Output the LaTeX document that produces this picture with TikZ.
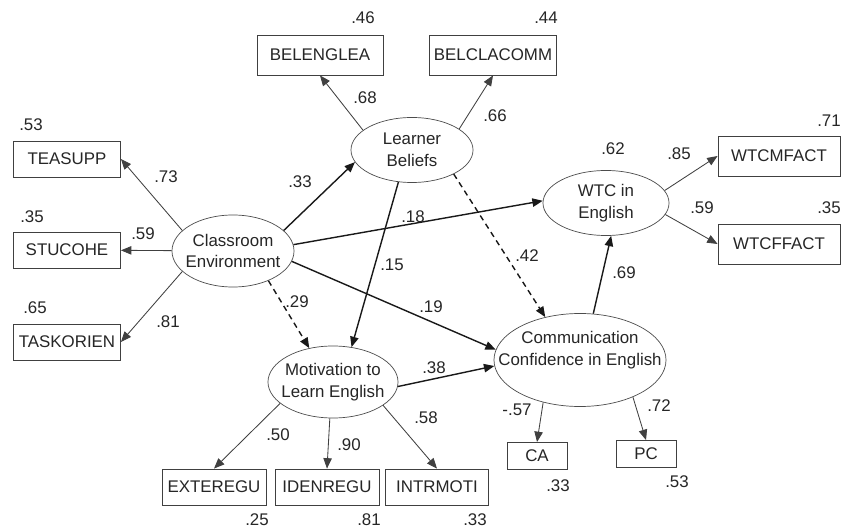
\documentclass[tikz,border=0pt]{standalone}
\usepackage{fontspec}
\setmainfont{Liberation Sans}
\usetikzlibrary{shapes,arrows.meta}

\begin{document}
\begin{tikzpicture}[x=0.025cm,y=-0.025cm,font=\fontsize{12}{15.6}\selectfont]
\tikzstyle{indic}=[draw=black!75,line width=0.6pt,minimum width=2.675cm,minimum height=0.9cm,inner sep=0pt,text=black!85]
\tikzstyle{latent}=[ellipse,draw=black!70,line width=0.5pt,inner sep=0pt]
\tikzstyle{load}=[draw=black!75,line width=0.6pt,-{Triangle[length=2.6mm,width=2.1mm]}]
\tikzstyle{effect}=[draw=black!90,line width=1pt,-{Triangle[length=2.6mm,width=2.1mm]}]
\tikzstyle{coef}=[inner sep=0pt,text=black!85]

\fill[white] (0,0) rectangle (841,530);
\useasboundingbox (0,0) rectangle (841,530);

%% Latent variables
\node [latent,minimum width=3.05cm,minimum height=1.8cm,
  label={[align=center,text=black!85]center:Classroom\\Environment}] (ce) at (233,251) {};
\node [latent,minimum width=3.05cm,minimum height=1.625cm,
  label={[align=center,text=black!85]center:Learner\\Beliefs}] (lb) at (412,150) {};
\node [latent,minimum width=3.25cm,minimum height=1.8cm,
  label={[align=center,text=black!85]center:Motivation to\\Learn English}] (mot) at (333,382) {};
\node [latent,minimum width=4.3cm,minimum height=2.325cm,
  label={[align=center,text=black!85,yshift=0.25cm]center:Communication\\Confidence in English}] (comm) at (580,360) {};
\node [latent,minimum width=3.15cm,minimum height=1.625cm,
  label={[align=center,text=black!85]center:WTC in\\English}] (wtc) at (606,203) {};

%% Observed variables
\node [indic,minimum width=3.15cm,minimum height=1cm] (belenglea) at (320,55) {BELENGLEA};
\node [indic,minimum width=3.175cm,minimum height=1cm] (belclacomm) at (493,55) {BELCLACOMM};
\node [indic] (teasupp) at (67,159) {TEASUPP};
\node [indic] (stucohe) at (67,250) {STUCOHE};
\node [indic] (taskorien) at (67,342) {TASKORIEN};
\node [indic,minimum width=2.6cm] (exteregu) at (214,487) {EXTEREGU};
\node [indic,minimum width=2.6cm] (idenregu) at (327,487) {IDENREGU};
\node [indic,minimum width=2.575cm] (intrmoti) at (437,487) {INTRMOTI};
\node [indic,minimum width=3.05cm,minimum height=1cm] (wtcmfact) at (779,156) {WTCMFACT};
\node [indic,minimum width=3.05cm,minimum height=1cm] (wtcffact) at (779,244) {WTCFFACT};
\node [indic,minimum width=1.5cm,minimum height=0.675cm] (ca) at (537,456) {CA};
\node [indic,minimum width=1.5cm,minimum height=0.675cm] (pc) at (646,454) {PC};

%% Loadings
\draw [load] (lb.158) -- (belenglea.south);
\draw [load] (lb.24) -- (belclacomm.south);
\draw [load] (ce.158) -- (teasupp.east);
\draw [load] (ce) -- (stucohe);
\draw [load] (ce.202) -- (taskorien.east);
\draw [load] (mot.202) -- (exteregu.north);
\draw [load] (mot.265) -- (idenregu.north);
\draw [load] (mot.335) -- (intrmoti.north);
\draw [load] (wtc.12) -- (wtcmfact.west);
\draw [load] (wtc.349) -- (wtcffact.west);
\draw [load] (comm.229) -- (ca.north);
\draw [load] (comm.325) -- (pc.north);

%% Structural paths
\draw [effect] (ce.22) -- (lb.192);
\draw [effect] (ce.6) -- (wtc.178);
\draw [effect] (ce.350) -- (comm.173);
\draw [effect,dash pattern=on 4pt off 3pt] (ce.320) -- (mot.125);
\draw [effect] (lb.247) -- (mot.62);
\draw [effect,dash pattern=on 4pt off 3pt] (lb.330) -- (comm.129);
\draw [effect] (mot.356) -- (comm.184);
\draw [effect] (comm.74) -- (wtc.279);

%% Coefficients
\node [coef] (r-belenglea) at (363,18) {.46};
\node [coef] (r-belclacomm) at (546,18) {.44};
\node [coef] (l-belenglea) at (365,98) {.68};
\node [coef] (l-belclacomm) at (495,116) {.66};
\node [coef] (r-teasupp) at (31,125) {.53};
\node [coef] (l-teasupp) at (166,177) {.73};
\node [coef] (r-stucohe) at (32,217) {.35};
\node [coef] (l-stucohe) at (143,234) {.59};
\node [coef] (r-taskorien) at (35,308) {.65};
\node [coef] (l-taskorien) at (168,322) {.81};
\node [coef] (p-ce-lb) at (300,182) {.33};
\node [coef] (p-ce-wtc) at (413,217) {.18};
\node [coef] (p-ce-mot) at (297,302) {.29};
\node [coef] (p-lb-mot) at (392,265) {.15};
\node [coef] (p-ce-comm) at (431,307) {.19};
\node [coef] (p-lb-comm) at (527,256) {.42};
\node [coef] (p-mot-comm) at (434,368) {.38};
\node [coef] (p-comm-wtc) at (624,273) {.69};
\node [coef] (l-exteregu) at (278,435) {.50};
\node [coef] (l-idenregu) at (349,445) {.90};
\node [coef] (l-intrmoti) at (426,418) {.58};
\node [coef] (r-exteregu) at (257,520) {.25};
\node [coef] (r-idenregu) at (369,520) {.81};
\node [coef] (r-intrmoti) at (475,520) {.33};
\node [coef] (r-wtc) at (613,149) {.62};
\node [coef] (l-wtcmfact) at (679,154) {.85};
\node [coef] (l-wtcffact) at (702,208) {.59};
\node [coef] (r-wtcmfact) at (829,121) {.71};
\node [coef] (r-wtcffact) at (829,208) {.35};
\node [coef] (l-ca) at (517,410) {-.57};
\node [coef] (l-pc) at (659,406) {.72};
\node [coef] (r-ca) at (558,486) {.33};
\node [coef] (r-pc) at (677,482) {.53};
\end{tikzpicture}
\end{document}
